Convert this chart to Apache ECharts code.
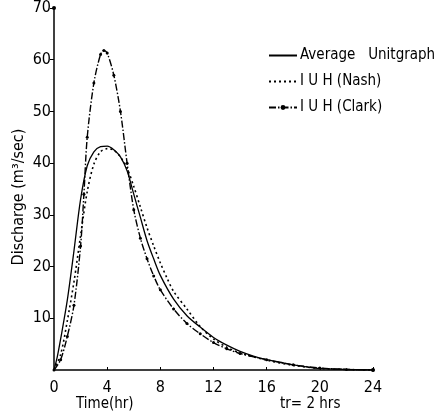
<!DOCTYPE html>
<html>
<head>
<meta charset="utf-8">
<script src="https://cdn.jsdelivr.net/npm/echarts@6/dist/echarts.min.js"></script>
<style>
  html, body { margin: 0; padding: 0; background: #fff; }
  #chart { width: 436px; height: 415px; }
</style>
</head>
<body>
<div id="chart"></div>
<script>
// time axis (hr)
const xTicks = [0, 4, 8, 12, 16, 20, 24]
const yTicks = [10, 20, 30, 40, 50, 60, 70]

// Average unitgraph
const avgTime = [0, 0.25, 0.5, 1, 1.5, 2, 2.5, 3, 3.5, 4, 4.5, 5, 5.5, 6, 6.5, 7, 7.5, 8, 9, 10, 11, 12, 13, 14, 15, 16, 17, 18, 19, 20, 22, 24]
const avgQ = [0, 2.6, 6, 13.5, 23, 33, 39.5, 42.2, 43.2, 43.3, 42.6, 41.2, 38.5, 34, 29.5, 25, 21.5, 18.3, 13.7, 10.5, 8.3, 6.3, 4.8, 3.6, 2.7, 2, 1.5, 1, 0.6, 0.3, 0.1, 0]

// IUH (Nash)
const nashTime = [0, 0.5, 1, 1.5, 2, 2.5, 3, 3.5, 4, 4.5, 5, 5.5, 6, 6.5, 7, 7.5, 8, 8.5, 9, 10, 11, 12, 13, 14, 16, 18, 20, 22, 24]
const nashQ = [0, 3, 9.5, 17, 26, 34.5, 39.8, 42.2, 42.8, 42.5, 41.2, 39, 35.5, 31.5, 27.5, 24, 20.7, 17.8, 15.2, 11.8, 8.4, 6, 4.4, 3.3, 1.9, 0.9, 0.3, 0.1, 0]

// IUH (Clark)
const clarkTime = [0, 0.5, 1, 1.5, 2, 2.25, 2.5, 3, 3.5, 3.75, 4, 4.5, 5, 5.5, 6, 6.5, 7, 7.5, 8, 9, 10, 11, 12, 13, 14, 16, 18, 20, 22, 24]
const clarkQ = [0, 2, 6.5, 12.5, 24, 34, 45, 55.5, 61, 61.8, 61.3, 57, 50, 40, 31, 25.5, 21.5, 18.2, 15.5, 11.8, 9, 7, 5.3, 4.1, 3.2, 2, 1, 0.4, 0.1, 0]

const pairs = (xs, ys) => xs.map((x, i) => [x, ys[i]])

const font = "'Liberation Sans Narrow', 'DejaVu Sans Condensed', sans-serif"

const chart = echarts.init(document.getElementById('chart'))
chart.setOption({
  animation: false,
  backgroundColor: '#fff',
  grid: { left: 54, right: 63, top: 7, bottom: 45 },
  legend: {
    orient: 'vertical',
    left: 263,
    top: 43,
    itemGap: 11,
    itemWidth: 28,
    itemHeight: 6,
    textStyle: { color: '#000', fontSize: 15, fontFamily: font, padding: [0, 0, 0, -2] },
    data: [
      { name: 'Average   Unitgraph', itemStyle: { opacity: 0 } },
      { name: 'I U H (Nash)', itemStyle: { opacity: 0 } },
      { name: 'I U H (Clark)' }
    ]
  },
  xAxis: {
    type: 'value',
    min: 0,
    max: 24,
    interval: 4,
    axisLine: { lineStyle: { color: '#000', width: 1.5 }, symbol: ['none', 'circle'], symbolSize: [4, 4] },
    axisTick: { show: true, inside: true, length: 3, lineStyle: { color: '#000' } },
    axisLabel: { color: '#000', fontSize: 16, fontFamily: font, margin: 10 },
    splitLine: { show: false }
  },
  yAxis: {
    type: 'value',
    min: 0,
    max: 70,
    interval: 10,
    axisLine: { show: true, lineStyle: { color: '#000', width: 1.5 }, symbol: ['none', 'circle'], symbolSize: [4, 4] },
    axisTick: { show: true, length: 4, lineStyle: { color: '#000' } },
    axisLabel: { color: '#000', fontSize: 16, fontFamily: font, margin: 3, showMinLabel: false },
    splitLine: { show: false }
  },
  series: [
    {
      name: 'Average   Unitgraph',
      type: 'line',
      smooth: 0.3,
      showSymbol: false,
      symbol: 'none',
      lineStyle: { color: '#000', width: 1.3 },
      itemStyle: { color: '#000' },
      data: pairs(avgTime, avgQ)
    },
    {
      name: 'I U H (Nash)',
      type: 'line',
      smooth: 0.3,
      showSymbol: false,
      symbol: 'none',
      lineStyle: { color: '#000', width: 1.6, type: [2, 3] },
      itemStyle: { color: '#000' },
      data: pairs(nashTime, nashQ)
    },
    {
      name: 'I U H (Clark)',
      type: 'line',
      smooth: 0.3,
      symbol: 'circle',
      symbolSize: 3,
      showSymbol: true,
      lineStyle: { color: '#000', width: 1.4, type: [7, 2, 1.5, 2] },
      itemStyle: { color: '#000' },
      data: pairs(clarkTime, clarkQ)
    }
  ],
  graphic: [
    {
      type: 'text',
      left: 76,
      top: 397,
      style: { text: 'Time(hr)', font: '15px ' + font, fill: '#000' }
    },
    {
      type: 'text',
      left: 280,
      top: 397,
      style: { text: 'tr= 2 hrs', font: '15px ' + font, fill: '#000' }
    },
    {
      type: 'text',
      x: 19,
      y: 197,
      rotation: Math.PI / 2,
      style: { text: 'Discharge (m³/sec)', font: '16px ' + font, fill: '#000', align: 'center', verticalAlign: 'middle' }
    }
  ]
})
</script>
</body>
</html>
